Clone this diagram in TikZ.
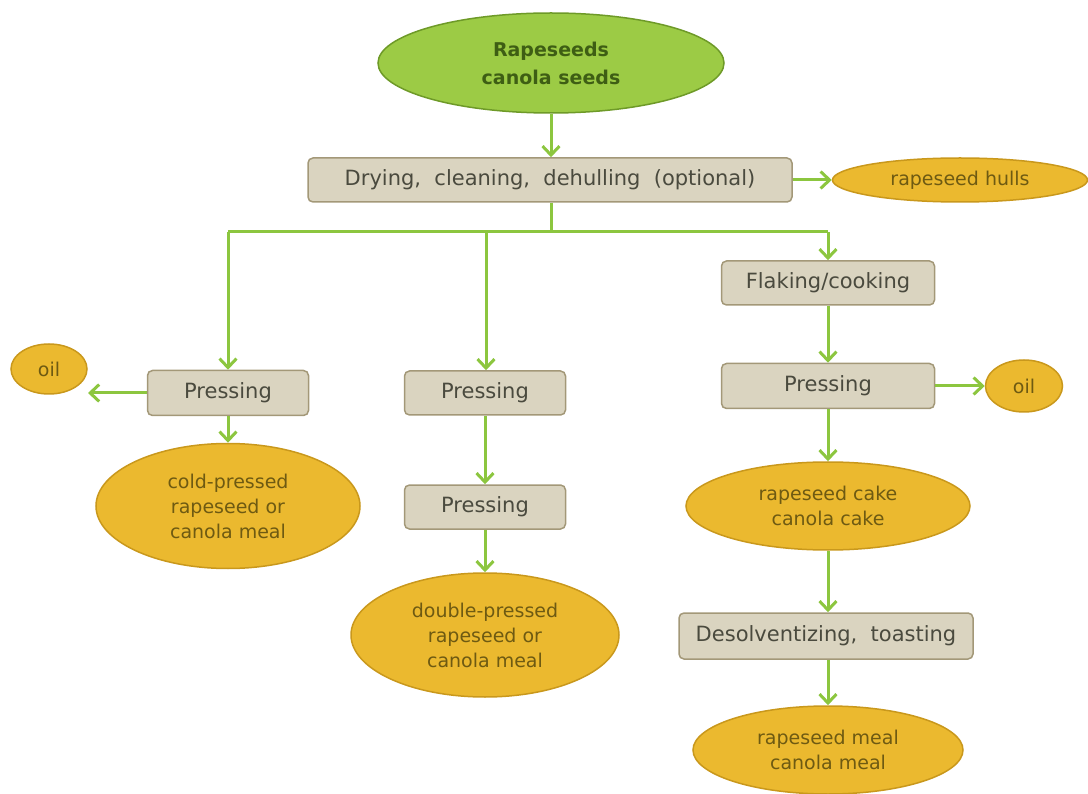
\documentclass[tikz,border=0pt]{standalone}
\usepackage{fontspec}
\setmainfont{DejaVu Sans}
\usetikzlibrary{shapes.geometric,arrows.meta}
\definecolor{flow}{HTML}{8CC63F}
\definecolor{boxfill}{HTML}{DAD4C0}
\definecolor{boxline}{HTML}{A39878}
\definecolor{boxtext}{HTML}{4A4A3E}
\definecolor{goldfill}{HTML}{EBB92F}
\definecolor{goldline}{HTML}{C9981C}
\definecolor{goldtext}{HTML}{6E5A12}
\definecolor{seedfill}{HTML}{9CCB45}
\definecolor{seedline}{HTML}{6E9A28}
\definecolor{seedtext}{HTML}{3E5E14}
\tikzset{
  stepbox/.style={draw=boxline, fill=boxfill, line width=1.5pt, rounded corners=5pt,
    text=boxtext, font=\fontsize{21}{24}\selectfont, inner sep=0pt},
  product/.style={ellipse, draw=goldline, fill=goldfill, line width=1.5pt,
    text=goldtext, font=\fontsize{19}{25}\selectfont, inner sep=0pt, align=center},
  flowline/.style={draw=flow, line width=3pt},
  flowarrow/.style={flowline, -{Straight Barb[length=9pt,width=17pt,line width=3pt]}},
}
\begin{document}
\begin{tikzpicture}[x=1pt,y=-1pt]
\useasboundingbox (0,0) rectangle (1088,794);

% source
\node[ellipse, draw=seedline, fill=seedfill, line width=1.5pt, inner sep=0pt,
      minimum width=346pt, minimum height=100pt, text=seedtext, align=center,
      font=\bfseries\fontsize{19}{28}\selectfont] (seeds) at (551,63) {Rapeseeds\\canola seeds};

% preparation
\node[stepbox, minimum width=484pt, minimum height=44pt] (dry) at (550,180)
  {Drying,\ \ cleaning,\ \ dehulling\ \ (optional)};
\node[product, minimum width=255pt, minimum height=44pt] (hulls) at (960,180) {rapeseed hulls};

% branch junction
\coordinate (j)  at (551,232);
\coordinate (jl) at (228,232);
\coordinate (jm) at (486,232);
\coordinate (jr) at (828,232);

% left branch: cold pressing
\node[stepbox, minimum width=161pt, minimum height=45pt] (p1) at (228,393) {Pressing};
\node[product, minimum width=76pt, minimum height=50pt] (oil1) at (49,369) {oil};
\coordinate (oil1in) at (88,393);
\node[product, minimum width=264pt, minimum height=125pt] (cold) at (228,506)
  {cold-pressed\\rapeseed or\\canola meal};

% middle branch: double pressing
\node[stepbox, minimum width=161pt, minimum height=44pt] (p2) at (485,393) {Pressing};
\node[stepbox, minimum width=161pt, minimum height=44pt] (p3) at (485,507) {Pressing};
\node[product, minimum width=268pt, minimum height=124pt] (double) at (485,635)
  {double-pressed\\rapeseed or\\canola meal};

% right branch: solvent extraction
\node[stepbox, minimum width=213pt, minimum height=44pt] (flake) at (828,283) {Flaking/cooking};
\node[stepbox, minimum width=213pt, minimum height=45pt] (p4) at (828,386) {Pressing};
\node[product, minimum width=77pt, minimum height=52pt] (oil2) at (1024,386) {oil};
\node[product, minimum width=284pt, minimum height=88pt] (cake) at (828,506)
  {rapeseed cake\\canola cake};
\node[stepbox, minimum width=294pt, minimum height=46pt] (desol) at (826,636)
  {Desolventizing,\ \ toasting};
\node[product, minimum width=270pt, minimum height=88pt] (meal) at (828,750)
  {rapeseed meal\\canola meal};

% connectors
\draw[flowarrow] (seeds.south) -- (dry.north -| seeds.south);
\draw[flowarrow] (dry.east) -- (hulls.west);
\draw[flowline] (dry.south -| j) -- (j);
\draw[flowline] (jl) -- (jr);
\draw[flowarrow] (jl) -- (p1.north);
\draw[flowarrow] (jm) -- (p2.north -| jm);
\draw[flowarrow] (jr) -- (flake.north);

\draw[flowarrow] (p1.west) -- (oil1in);
\draw[flowarrow] (p1.south) -- (cold.north);

\draw[flowarrow] (p2.south) -- (p3.north);
\draw[flowarrow] (p3.south) -- (double.north);

\draw[flowarrow] (flake.south) -- (p4.north);
\draw[flowarrow] (p4.east) -- (oil2.west);
\draw[flowarrow] (p4.south) -- (cake.north);
\draw[flowarrow] (cake.south) -- (desol.north -| cake.south);
\draw[flowarrow] (desol.south -| meal.north) -- (meal.north);
\end{tikzpicture}
\end{document}
